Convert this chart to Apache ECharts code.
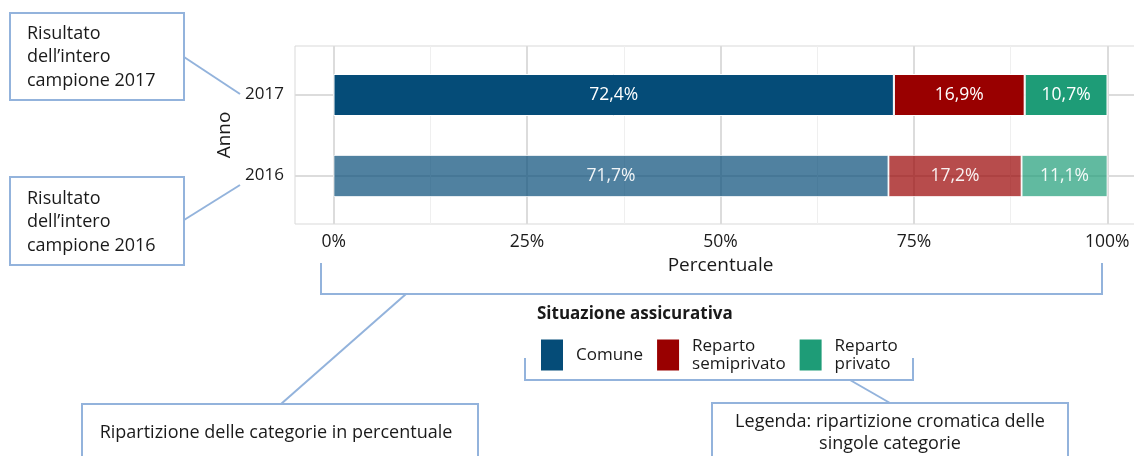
<!DOCTYPE html>
<html>
<head>
<meta charset="utf-8">
<title>Situazione assicurativa</title>
<script src="https://cdn.jsdelivr.net/npm/echarts@6/dist/echarts.min.js"></script>
<style>
	html, body { margin: 0; padding: 0; background: #fff; }
	#chart { width: 1134px; height: 456px; }
</style>
</head>
<body>
<div id="chart"></div>
<script>
// dati
var anni = ['2016', '2017'];
var comune = [71.7, 72.4];
var semiprivato = [17.2, 16.9];
var privato = [11.1, 10.7];
var ticksX = [0, 25, 50, 75, 100];
var ticksXMinor = [12.5, 37.5, 62.5, 87.5];

var FONT = '"Open Sans", "Noto Sans", sans-serif';
var LINEA = '#93b3dc';
var GRIGIO = '#dcdcdc';
var TESTO = '#1a1a1a';

function serie(nome, valori, colore)
{
	return {
		name: nome,
		type: 'bar',
		stack: 'tot',
		xAxisIndex: 2,
		yAxisIndex: 1,
		barWidth: 42,
		itemStyle: { color: colore, borderColor: '#fff', borderWidth: 1 },
		label: {
			show: true,
			color: '#fff',
			fontFamily: FONT,
			fontSize: 17.5,
			formatter: function(p) { return p.value.toFixed(1).replace('.', ',') + '%'; }
		},
		data: valori.map(function(v, i) {
			// 2016 piu' chiaro
			if (i === 0) return { value: v, itemStyle: { opacity: 0.7 }, label: { opacity: 0.92 } };
			return { value: v };
		})
	};
}

var chart = echarts.init(document.getElementById('chart'), null, { renderer: 'canvas' });

var option = {
	animation: false,
	textStyle: { fontFamily: FONT },
	title: {
		text: 'Situazione assicurativa',
		left: 537, top: 306,
		padding: 0,
		textStyle: { fontFamily: FONT, fontSize: 17, fontWeight: 'bold', color: TESTO }
	},
	legend: {
		left: 539, top: 337,
		padding: 0,
		itemWidth: 24, itemHeight: 33, itemGap: 12,
		icon: 'rect',
		selectedMode: false,
		formatter: function(name) { return name.replace('Reparto ', 'Reparto\n'); },
		textStyle: { fontFamily: FONT, fontSize: 17, lineHeight: 18, color: TESTO, padding: [0, 0, 0, 7] },
		data: ['Comune', 'Reparto semiprivato', 'Reparto privato']
	},
	grid: [
		// pannello
		{ left: 295, right: -12, top: 46, bottom: 232, show: true, borderColor: '#d9d9d9', borderWidth: 1, outerBoundsMode: 'none' },
		// barre
		{ left: 333.5, right: 26.5, top: 54.5, bottom: 239.5, outerBoundsMode: 'none' }
	],
	xAxis: [
		{
			gridIndex: 0, type: 'value', min: -5, max: 105,
			axisLine: { show: false },
			axisTick: { show: true, customValues: ticksX, length: 5, lineStyle: { color: GRIGIO, width: 2 } },
			axisLabel: { customValues: ticksX, margin: 9, fontSize: 17.5, color: TESTO, formatter: '{value}%' },
			splitLine: { show: true, lineStyle: { color: GRIGIO, width: 2 } },
			name: 'Percentuale', nameLocation: 'middle', nameGap: 32,
			nameTextStyle: { fontSize: 19, color: TESTO }
		},
		{
			gridIndex: 0, type: 'value', min: -5, max: 105,
			axisLine: { show: false },
			axisTick: { show: false, customValues: ticksXMinor },
			axisLabel: { show: false, customValues: ticksXMinor },
			splitLine: { show: true, lineStyle: { color: '#efefef', width: 1 } }
		},
		{ gridIndex: 1, type: 'value', min: 0, max: 100, show: false }
	],
	yAxis: [
		{
			gridIndex: 0, type: 'value', min: -0.6, max: 1.6,
			axisLine: { show: false },
			axisTick: { show: true, customValues: [0, 1], length: 5, lineStyle: { color: GRIGIO, width: 2 } },
			axisLabel: {
				customValues: [0, 1], margin: 11, fontSize: 17, color: TESTO,
				formatter: function(v) { return anni[Math.round(v)]; }
			},
			splitLine: { show: true, lineStyle: { color: GRIGIO, width: 2 } },
			name: 'Anno', nameLocation: 'middle', nameGap: 55, nameRotate: 90,
			nameTextStyle: { fontSize: 19, color: TESTO }
		},
		{ gridIndex: 1, type: 'category', data: anni, show: false }
	],
	series: [
		serie('Comune', comune, '#054c78'),
		serie('Reparto semiprivato', semiprivato, '#990000'),
		serie('Reparto privato', privato, '#1e9c77')
	],
	graphic: [
		// riquadri
		{ type: 'rect', shape: { x: 10, y: 13, width: 174, height: 87 }, style: { fill: '#fff', stroke: LINEA, lineWidth: 2 } },
		{ type: 'text', x: 27, y: 22, style: { text: 'Risultato\ndell\u2019intero\ncampione 2017', font: '18px ' + FONT, lineHeight: 23.5, fill: TESTO } },
		{ type: 'rect', shape: { x: 10, y: 177, width: 174, height: 88 }, style: { fill: '#fff', stroke: LINEA, lineWidth: 2 } },
		{ type: 'text', x: 27, y: 187, style: { text: 'Risultato\ndell\u2019intero\ncampione 2016', font: '18px ' + FONT, lineHeight: 23.5, fill: TESTO } },
		{ type: 'line', shape: { x1: 184, y1: 57, x2: 240, y2: 94 }, style: { stroke: LINEA, lineWidth: 2 } },
		{ type: 'line', shape: { x1: 184, y1: 220, x2: 240, y2: 185 }, style: { stroke: LINEA, lineWidth: 2 } },
		// parentesi asse x
		{ type: 'polyline', shape: { points: [[321, 263], [321, 294], [1102, 294], [1102, 263]] }, style: { fill: null, stroke: LINEA, lineWidth: 2 } },
		{ type: 'line', shape: { x1: 406, y1: 294, x2: 281, y2: 404 }, style: { stroke: LINEA, lineWidth: 2 } },
		{ type: 'rect', shape: { x: 82, y: 404, width: 396, height: 70 }, style: { fill: '#fff', stroke: LINEA, lineWidth: 2 } },
		{ type: 'text', x: 276, y: 433, style: { text: 'Ripartizione delle categorie in percentuale', font: '18px ' + FONT, fill: TESTO, align: 'center', verticalAlign: 'middle' } },
		// parentesi legenda
		{ type: 'polyline', shape: { points: [[525, 358], [525, 380], [913, 380], [913, 358]] }, style: { fill: null, stroke: LINEA, lineWidth: 2 } },
		{ type: 'line', shape: { x1: 850, y1: 380, x2: 890, y2: 403 }, style: { stroke: LINEA, lineWidth: 2 } },
		{ type: 'rect', shape: { x: 712, y: 403, width: 356, height: 70 }, style: { fill: '#fff', stroke: LINEA, lineWidth: 2 } },
		{ type: 'text', x: 890, y: 411, style: { text: 'Legenda: ripartizione cromatica delle\nsingole categorie', font: '18px ' + FONT, lineHeight: 22, fill: TESTO, align: 'center' } }
	]
};

chart.setOption(option);
</script>
</body>
</html>
